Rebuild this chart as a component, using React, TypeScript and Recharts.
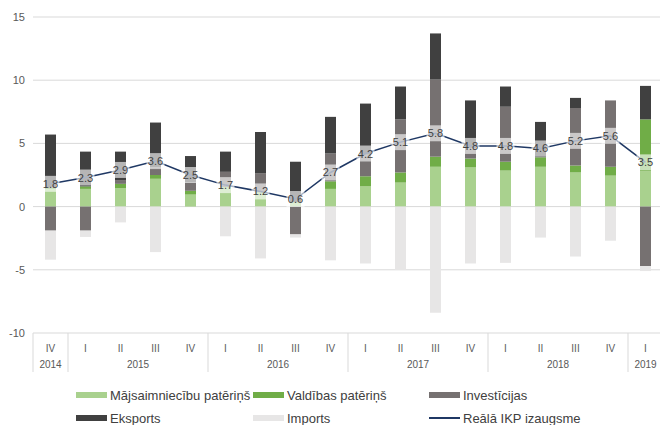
import React from 'react';
import { ComposedChart, Bar, Line, XAxis, YAxis, CartesianGrid, LabelList } from 'recharts';

const quarters = ['IV', 'I', 'II', 'III', 'IV', 'I', 'II', 'III', 'IV', 'I', 'II', 'III', 'IV', 'I', 'II', 'III', 'IV', 'I'];
const years = ['2014', '2015', '2015', '2015', '2015', '2016', '2016', '2016', '2016', '2017', '2017', '2017', '2017', '2018', '2018', '2018', '2018', '2019'];
const households = [1.4, 1.4, 1.45, 2.2, 0.95, 1.5, 1.1, 0.3, 1.4, 1.6, 1.9, 3.15, 3.1, 2.85, 3.15, 2.7, 2.45, 2.8];
const government = [0.1, 0.2, 0.35, 0.3, 0.3, 0.05, 0.05, 0.05, 0.6, 0.8, 0.8, 0.8, 0.7, 0.7, 0.75, 0.55, 0.7, 4.1];
const investment = [-1.9, -1.9, 0.3, 0.6, 0.65, 1.2, 1.5, -2.2, 2.2, 1.7, 4.2, 6.1, 0.8, 4.35, 0.05, 4.55, 5.25, -4.7];
const exportsC = [4.2, 2.75, 2.25, 3.55, 2.1, 1.6, 3.25, 3.2, 2.9, 4.05, 2.6, 3.65, 3.8, 1.6, 2.75, 0.8, 0, 2.65];
const importsC = [-2.3, -0.5, -1.25, -3.6, 0, -2.35, -4.1, -0.25, -4.25, -4.5, -5.0, -8.4, -4.5, -4.45, -2.45, -3.95, -2.7, -0.4];
const gdp = [1.8, 2.3, 2.9, 3.6, 2.5, 1.7, 1.2, 0.6, 2.7, 4.2, 5.1, 5.8, 4.8, 4.8, 4.6, 5.2, 5.6, 3.5];
const yTicks = [-10, -5, 0, 5, 10, 15];

const data = quarters.map((q, i) => ({
  key: `${q}-${years[i]}-${i}`,
  hh: households[i],
  gov: government[i],
  inv: investment[i],
  exp: exportsC[i],
  imp: importsC[i],
  gdp: gdp[i],
}));

const COLORS = {
  hh: '#a9d18e',
  gov: '#70ad47',
  inv: '#767171',
  exp: '#404040',
  imp: '#e7e6e6',
  line: '#1f3864',
};

const FONT = '"Liberation Sans Narrow", "Arial Narrow", "Liberation Sans", Arial, sans-serif';
const BAND = 35;

const XTick = (props: any) => {
  const { x, y, index } = props;
  const year = years[index];
  const first = index === 0 || years[index - 1] !== year;
  let count = 0;
  if (first) {
    let j = index;
    while (j < years.length && years[j] === year) { count++; j++; }
  }
  const last = index === years.length - 1;
  const left = x - BAND / 2;
  return (
    <g>
      <text x={x} y={y + 19} textAnchor="middle" fontSize={10} fill="#595959" fontFamily={FONT}>{quarters[index]}</text>
      {first && (
        <text x={left + (count * BAND) / 2} y={y + 35} textAnchor="middle" fontSize={10} fill="#595959" fontFamily={FONT}>{year}</text>
      )}
      {first && <line x1={left} x2={left} y1={y} y2={y + 39} stroke="#d9d9d9" strokeWidth={1} />}
      {last && <line x1={x + BAND / 2} x2={x + BAND / 2} y1={y} y2={y + 39} stroke="#d9d9d9" strokeWidth={1} />}
    </g>
  );
};

const GdpLabel = (props: any) => {
  const { x, y, value } = props;
  return (
    <g>
      <rect x={x - 9} y={y - 8} width={18} height={16} fill="#ffffff" fillOpacity={0.62} />
      <text x={x} y={y + 4} textAnchor="middle" fontSize={11} fill="#404040" fontFamily={FONT}>{Number(value).toFixed(1)}</text>
    </g>
  );
};

const legendRows = [
  [
    { label: 'Mājsaimniecību patēriņš', color: COLORS.hh, x: 76, type: 'box' },
    { label: 'Valdības patēriņš', color: COLORS.gov, x: 253, type: 'box' },
    { label: 'Investīcijas', color: COLORS.inv, x: 429, type: 'box' },
  ],
  [
    { label: 'Eksports', color: COLORS.exp, x: 76, type: 'box' },
    { label: 'Imports', color: COLORS.imp, x: 253, type: 'box' },
    { label: 'Reālā IKP izaugsme', color: COLORS.line, x: 429, type: 'line' },
  ],
];

export default function App() {
  return (
    <div style={{ position: 'absolute', left: 0, top: 0, width: 660, height: 425, overflow: 'hidden', background: '#fff' }}>
      <ComposedChart
        width={664}
        height={380}
        data={data}
        stackOffset="sign"
        margin={{ top: 17, right: 1, left: 0, bottom: 0 }}
        barCategoryGap={0}
      >
        <CartesianGrid vertical={false} stroke="#d9d9d9" strokeWidth={1} />
        <XAxis
          dataKey="key"
          axisLine={false}
          tickLine={false}
          tickSize={0}
          tickMargin={0}
          height={47}
          interval={0}
          tick={<XTick />}
        />
        <YAxis
          domain={[-10, 15]}
          ticks={yTicks}
          axisLine={false}
          tickLine={false}
          width={33}
          tick={{ fontSize: 11, fill: '#595959', fontFamily: FONT }}
        />
        <Bar dataKey="hh" stackId="s" fill={COLORS.hh} barSize={11} isAnimationActive={false} />
        <Bar dataKey="gov" stackId="s" fill={COLORS.gov} barSize={11} isAnimationActive={false} />
        <Bar dataKey="inv" stackId="s" fill={COLORS.inv} barSize={11} isAnimationActive={false} />
        <Bar dataKey="exp" stackId="s" fill={COLORS.exp} barSize={11} isAnimationActive={false} />
        <Bar dataKey="imp" stackId="s" fill={COLORS.imp} barSize={11} isAnimationActive={false} />
        <Line dataKey="gdp" stroke={COLORS.line} strokeWidth={1.5} dot={false} isAnimationActive={false}>
          <LabelList dataKey="gdp" content={<GdpLabel />} />
        </Line>
      </ComposedChart>
      {legendRows.map((row, ri) => (
        <React.Fragment key={ri}>
          {row.map((item) => (
            <div
              key={item.label}
              style={{ position: 'absolute', left: item.x, top: 386 + ri * 23, height: 18, display: 'flex', alignItems: 'center' }}
            >
              {item.type === 'box' ? (
                <div style={{ width: 31, height: 6, background: item.color }} />
              ) : (
                <div style={{ width: 31, height: 2, background: item.color }} />
              )}
              <span style={{ marginLeft: 3, fontFamily: FONT, fontSize: 13, color: '#404040', whiteSpace: 'nowrap' }}>{item.label}</span>
            </div>
          ))}
        </React.Fragment>
      ))}
    </div>
  );
}
